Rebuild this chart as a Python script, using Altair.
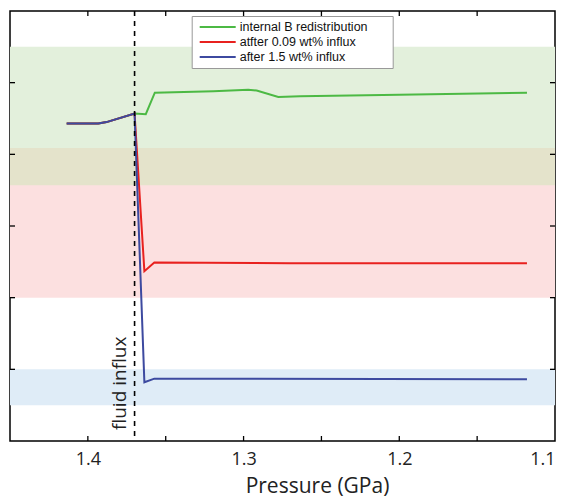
import altair as alt
import pandas as pd

# ---------------- data ----------------
series = ["internal B redistribution", "atfter 0.09 wt% influx", "after 1.5 wt% influx"]
colors = ["#4cb944", "#e8211f", "#3d4aa0"]

# common pre-influx path (pressure in GPa, arbitrary y units)
pre_p = [1.4136, 1.3933, 1.388, 1.370]
pre_v = [4.43, 4.43, 4.45, 4.57]

green_p = [1.3628, 1.357, 1.3194, 1.297, 1.2916, 1.2777, 1.2637, 1.20, 1.118]
green_v = [4.56, 4.86, 4.88, 4.90, 4.89, 4.80, 4.81, 4.83, 4.86]
red_p = [1.3637, 1.3573, 1.27, 1.118]
red_v = [2.37, 2.49, 2.48, 2.48]
blue_p = [1.3637, 1.3573, 1.118]
blue_v = [0.82, 0.87, 0.86]

band_lo = [3.57, 2.0, 3.57, 0.5]
band_hi = [5.5, 4.09, 4.09, 1.0]
band_col = ["#e3f0dc", "#fce0e0", "#e4e3cb", "#dfecf7"]

influx_p = [1.37]
x_label_vals = [1.4, 1.3, 1.2, 1.1]
x_tick_vals = [1.4, 1.35, 1.3, 1.25, 1.2, 1.15]
y_tick_vals = [1, 2, 3, 4, 5]

# ---------------- build ----------------
W, H = 545, 430
xs = alt.Scale(domain=[1.1, 1.45], reverse=True, nice=False, zero=False)
ys = alt.Scale(domain=[0, 6], nice=False, zero=False)

xaxis = alt.Axis(
    values=x_label_vals, format=".1f", ticks=False, tickSize=0, domain=False, grid=False,
    labelFont="Open Sans", labelFontSize=18, labelColor="#222", labelPadding=9,
    title="Pressure (GPa)", titleFont="Open Sans", titleFontSize=21, titleFontWeight="normal",
    titleColor="#222", titleX=307, titleY=51, titleBaseline="alphabetic",
)


def X(field="p"):
    return alt.X(f"{field}:Q", scale=xs, axis=xaxis)


def Y(field="v"):
    return alt.Y(f"{field}:Q", scale=ys, axis=None)


legend = alt.Legend(
    title=" ", titleOrient="right", titleFontSize=1, titlePadding=21,
    orient="none", legendX=181.7, legendY=5, direction="vertical",
    symbolType="M-3,0H3", symbolSize=144, symbolStrokeWidth=2, symbolFillColor="transparent",
    symbolOffset=15,
    labelFont="Liberation Sans", labelFontSize=12.5, labelColor="#111", labelLimit=400,
    strokeColor="#999", fillColor="white", padding=4, rowPadding=1, labelOffset=15,
)
color = alt.Color("series:N", scale=alt.Scale(domain=series, range=colors), legend=legend)

bands = pd.DataFrame({"lo": band_lo, "hi": band_hi, "c": band_col})
band_layer = alt.Chart(bands).mark_rect().encode(
    x=alt.value(0), x2=alt.value(W), y=Y("lo"), y2=alt.Y2("hi"), fill=alt.Fill("c:N", scale=None)
)


def line_df(name, ps, vs):
    return pd.DataFrame({"p": pre_p + ps, "v": pre_v + vs, "series": name, "o": list(range(len(pre_p) + len(ps)))})


layers = [band_layer]
for name, ps, vs in [(series[0], green_p, green_v), (series[1], red_p, red_v), (series[2], blue_p, blue_v)]:
    layers.append(
        alt.Chart(line_df(name, ps, vs)).mark_line(strokeWidth=2).encode(
            x=X(), y=Y(), color=color, order="o:Q"
        )
    )

infl = pd.DataFrame({"p": influx_p})
layers.append(alt.Chart(infl).mark_rule(color="black", strokeWidth=1.6, strokeDash=[5, 5]).encode(x=X()))
layers.append(
    alt.Chart(infl).mark_text(
        text="fluid influx", angle=270, align="left", baseline="alphabetic", dy=-9,
        font="Open Sans", fontSize=19, color="#222",
    ).encode(x=X(), y=alt.value(H - 11))
)

xt = pd.DataFrame({"p": x_tick_vals})
yt = pd.DataFrame({"v": y_tick_vals})
tick_style = dict(color="black", strokeWidth=1.3)
layers.append(alt.Chart(xt).mark_rule(**tick_style).encode(x=X(), y=alt.value(H), y2=alt.value(H - 5)))
layers.append(alt.Chart(xt).mark_rule(**tick_style).encode(x=X(), y=alt.value(0), y2=alt.value(5)))
layers.append(alt.Chart(yt).mark_rule(**tick_style).encode(y=Y(), x=alt.value(0), x2=alt.value(5)))
layers.append(alt.Chart(yt).mark_rule(**tick_style).encode(y=Y(), x=alt.value(W), x2=alt.value(W - 5)))

chart = (
    alt.layer(*layers)
    .properties(
        width=W, height=H,
        autosize=alt.AutoSizeParams(type="none"),
        padding={"left": 10, "top": 11, "right": 27, "bottom": 59},
        background="white",
    )
    .configure_view(stroke="black", strokeWidth=1.5)
)

chart.save("out.html", embed_options={"renderer": "svg", "actions": False})
